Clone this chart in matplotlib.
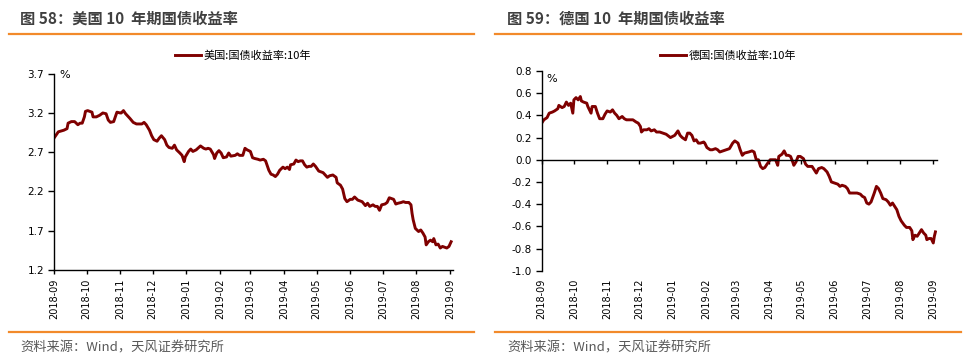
import matplotlib
matplotlib.use('Agg')
import matplotlib.pyplot as plt
import numpy as np
import pandas as pd
from matplotlib.lines import Line2D

# ---------------- data ----------------
us_dates = [
    '2018-09-01', '2018-09-05', '2018-09-10', '2018-09-13', '2018-09-14', '2018-09-17', '2018-09-20',
    '2018-09-23', '2018-09-25', '2018-09-27', '2018-09-29', '2018-09-30', '2018-10-02', '2018-10-06',
    '2018-10-07', '2018-10-10', '2018-10-13', '2018-10-16', '2018-10-19', '2018-10-21', '2018-10-23',
    '2018-10-26', '2018-10-27', '2018-10-29', '2018-11-01', '2018-11-02', '2018-11-04', '2018-11-06',
    '2018-11-10', '2018-11-13', '2018-11-16', '2018-11-21', '2018-11-23', '2018-11-25', '2018-11-28',
    '2018-11-30', '2018-12-02', '2018-12-05', '2018-12-07', '2018-12-09', '2018-12-12', '2018-12-14',
    '2018-12-16', '2018-12-19', '2018-12-21', '2018-12-23', '2018-12-26', '2018-12-28', '2018-12-30',
    '2018-12-31', '2019-01-03', '2019-01-05', '2019-01-07', '2019-01-10', '2019-01-14', '2019-01-17',
    '2019-01-19', '2019-01-21', '2019-01-23', '2019-01-26', '2019-01-27', '2019-01-29', '2019-01-31',
    '2019-02-02', '2019-02-04', '2019-02-07', '2019-02-09', '2019-02-11', '2019-02-15', '2019-02-17',
    '2019-02-19', '2019-02-22', '2019-02-24', '2019-02-26', '2019-03-01', '2019-03-03', '2019-03-05',
    '2019-03-08', '2019-03-10', '2019-03-13', '2019-03-15', '2019-03-18', '2019-03-20', '2019-03-22',
    '2019-03-24', '2019-03-26', '2019-03-28', '2019-03-31', '2019-04-02', '2019-04-04', '2019-04-06',
    '2019-04-07', '2019-04-10', '2019-04-12', '2019-04-14', '2019-04-16', '2019-04-18', '2019-04-20',
    '2019-04-22', '2019-04-24', '2019-04-26', '2019-04-28', '2019-04-30', '2019-05-03', '2019-05-05',
    '2019-05-07', '2019-05-09', '2019-05-11', '2019-05-13', '2019-05-16', '2019-05-19', '2019-05-20',
    '2019-05-23', '2019-05-25', '2019-05-27', '2019-05-29', '2019-06-01', '2019-06-03', '2019-06-05',
    '2019-06-08', '2019-06-10', '2019-06-12', '2019-06-15', '2019-06-17', '2019-06-19', '2019-06-22',
    '2019-06-24', '2019-06-26', '2019-06-28', '2019-06-30', '2019-07-03', '2019-07-05', '2019-07-07',
    '2019-07-09', '2019-07-11', '2019-07-13', '2019-07-15', '2019-07-18', '2019-07-20', '2019-07-22',
    '2019-07-25', '2019-07-27', '2019-07-28', '2019-07-29', '2019-07-31', '2019-08-03', '2019-08-05',
    '2019-08-07', '2019-08-09', '2019-08-10', '2019-08-12', '2019-08-14', '2019-08-16', '2019-08-17',
    '2019-08-19', '2019-08-21', '2019-08-23', '2019-08-25', '2019-08-27', '2019-08-29', '2019-08-31',
    '2019-09-02',
]
us_yield = [
    2.88, 2.96, 2.98, 3.00, 3.07, 3.09, 3.09,
    3.05, 3.07, 3.07, 3.15, 3.22, 3.23, 3.21,
    3.15, 3.15, 3.17, 3.20, 3.19, 3.11, 3.08,
    3.09, 3.13, 3.21, 3.20, 3.20, 3.23, 3.19,
    3.13, 3.08, 3.06, 3.06, 3.08, 3.05, 2.98,
    2.91, 2.86, 2.84, 2.88, 2.91, 2.86, 2.79,
    2.76, 2.75, 2.79, 2.73, 2.69, 2.66, 2.58,
    2.64, 2.71, 2.74, 2.71, 2.73, 2.78, 2.75,
    2.74, 2.75, 2.74, 2.67, 2.62, 2.69, 2.72,
    2.69, 2.63, 2.64, 2.69, 2.65, 2.66, 2.68,
    2.66, 2.66, 2.75, 2.73, 2.71, 2.63, 2.62,
    2.61, 2.60, 2.61, 2.59, 2.47, 2.42, 2.41,
    2.39, 2.42, 2.47, 2.51, 2.49, 2.51, 2.48,
    2.54, 2.55, 2.60, 2.58, 2.59, 2.59, 2.54,
    2.51, 2.52, 2.52, 2.55, 2.52, 2.46, 2.45,
    2.44, 2.41, 2.38, 2.40, 2.41, 2.38, 2.31,
    2.28, 2.23, 2.11, 2.07, 2.10, 2.10, 2.13,
    2.09, 2.08, 2.07, 2.02, 2.05, 2.01, 2.03,
    2.01, 2.01, 1.96, 2.03, 2.04, 2.06, 2.12,
    2.11, 2.10, 2.04, 2.05, 2.06, 2.07, 2.06,
    2.06, 2.03, 1.92, 1.84, 1.73, 1.69, 1.71,
    1.67, 1.62, 1.52, 1.56, 1.58, 1.56, 1.60,
    1.52, 1.53, 1.48, 1.50, 1.49, 1.48, 1.50,
    1.56,
]

de_dates = [
    '2018-09-01', '2018-09-03', '2018-09-06', '2018-09-08', '2018-09-11', '2018-09-13', '2018-09-16',
    '2018-09-17', '2018-09-20', '2018-09-22', '2018-09-24', '2018-09-26', '2018-09-28', '2018-09-30',
    '2018-10-01', '2018-10-03', '2018-10-05', '2018-10-07', '2018-10-08', '2018-10-10', '2018-10-13',
    '2018-10-14', '2018-10-17', '2018-10-18', '2018-10-21', '2018-10-23', '2018-10-25', '2018-10-28',
    '2018-10-30', '2018-11-01', '2018-11-04', '2018-11-06', '2018-11-08', '2018-11-10', '2018-11-12',
    '2018-11-15', '2018-11-17', '2018-11-19', '2018-11-22', '2018-11-25', '2018-11-28', '2018-11-30',
    '2018-12-02', '2018-12-03', '2018-12-05', '2018-12-08', '2018-12-10', '2018-12-12', '2018-12-15',
    '2018-12-17', '2018-12-20', '2018-12-23', '2018-12-26', '2018-12-30', '2019-01-01', '2019-01-03',
    '2019-01-06', '2019-01-08', '2019-01-10', '2019-01-13', '2019-01-15', '2019-01-17', '2019-01-19',
    '2019-01-21', '2019-01-23', '2019-01-25', '2019-01-27', '2019-01-30', '2019-01-31', '2019-02-02',
    '2019-02-05', '2019-02-07', '2019-02-10', '2019-02-12', '2019-02-14', '2019-02-17', '2019-02-20',
    '2019-02-23', '2019-02-26', '2019-02-28', '2019-03-03', '2019-03-05', '2019-03-07', '2019-03-09',
    '2019-03-13', '2019-03-16', '2019-03-18', '2019-03-20', '2019-03-22', '2019-03-24', '2019-03-26',
    '2019-03-28', '2019-03-30', '2019-04-02', '2019-04-05', '2019-04-07', '2019-04-09', '2019-04-10',
    '2019-04-13', '2019-04-15', '2019-04-17', '2019-04-19', '2019-04-21', '2019-04-23', '2019-04-24',
    '2019-04-26', '2019-04-28', '2019-04-30', '2019-05-03', '2019-05-05', '2019-05-07', '2019-05-11',
    '2019-05-13', '2019-05-15', '2019-05-17', '2019-05-20', '2019-05-22', '2019-05-25', '2019-05-27',
    '2019-05-29', '2019-06-01', '2019-06-04', '2019-06-06', '2019-06-08', '2019-06-11', '2019-06-13',
    '2019-06-15', '2019-06-18', '2019-06-20', '2019-06-22', '2019-06-25', '2019-06-27', '2019-06-29',
    '2019-07-01', '2019-07-03', '2019-07-05', '2019-07-08', '2019-07-10', '2019-07-12', '2019-07-14',
    '2019-07-16', '2019-07-19', '2019-07-21', '2019-07-23', '2019-07-25', '2019-07-27', '2019-07-29',
    '2019-07-31', '2019-08-02', '2019-08-05', '2019-08-07', '2019-08-10', '2019-08-12', '2019-08-13',
    '2019-08-15', '2019-08-17', '2019-08-19', '2019-08-21', '2019-08-23', '2019-08-25', '2019-08-26',
    '2019-08-28', '2019-08-30', '2019-09-01', '2019-09-02', '2019-09-03',
]
de_yield = [
    0.33, 0.36, 0.38, 0.42, 0.43, 0.44, 0.46,
    0.49, 0.47, 0.48, 0.52, 0.49, 0.51, 0.42,
    0.54, 0.56, 0.54, 0.57, 0.53, 0.52, 0.51,
    0.48, 0.42, 0.48, 0.48, 0.42, 0.37, 0.37,
    0.41, 0.44, 0.43, 0.45, 0.42, 0.40, 0.37,
    0.39, 0.37, 0.36, 0.36, 0.36, 0.34, 0.33,
    0.30, 0.25, 0.27, 0.27, 0.28, 0.26, 0.27,
    0.25, 0.25, 0.24, 0.23, 0.20, 0.21, 0.22,
    0.26, 0.22, 0.20, 0.18, 0.24, 0.24, 0.22,
    0.17, 0.18, 0.15, 0.15, 0.16, 0.15, 0.11,
    0.09, 0.09, 0.10, 0.09, 0.07, 0.08, 0.09,
    0.10, 0.15, 0.17, 0.15, 0.09, 0.04, 0.06,
    0.07, 0.08, 0.07, 0.00, 0.00, -0.06, -0.08,
    -0.07, -0.04, 0.00, 0.00, 0.00, -0.05, 0.03,
    0.05, 0.08, 0.04, 0.04, 0.03, -0.02, -0.05,
    -0.02, 0.03, 0.03, 0.01, -0.04, -0.06, -0.06,
    -0.09, -0.12, -0.08, -0.07, -0.08, -0.11, -0.15,
    -0.20, -0.21, -0.22, -0.24, -0.23, -0.24, -0.26,
    -0.30, -0.30, -0.30, -0.30, -0.31, -0.33, -0.34,
    -0.39, -0.40, -0.38, -0.30, -0.24, -0.26, -0.30,
    -0.35, -0.36, -0.38, -0.41, -0.39, -0.42, -0.45,
    -0.51, -0.55, -0.59, -0.61, -0.61, -0.64, -0.72,
    -0.68, -0.69, -0.66, -0.63, -0.66, -0.68, -0.72,
    -0.71, -0.71, -0.75, -0.69, -0.65,
]

month_labels = ['2018-09', '2018-10', '2018-11', '2018-12', '2019-01', '2019-02', '2019-03',
                '2019-04', '2019-05', '2019-06', '2019-07', '2019-08', '2019-09']
us_yticks = [1.2, 1.7, 2.2, 2.7, 3.2, 3.7]
de_yticks = [-1.0, -0.8, -0.6, -0.4, -0.2, 0.0, 0.2, 0.4, 0.6, 0.8]

titles = ['图 58：美国 10  年期国债收益率', '图 59：德国 10  年期国债收益率']
legend_labels = ['美国:国债收益率:10年', '德国:国债收益率:10年']
source_text = '资料来源：Wind，天风证券研究所'

# ---------------- style ----------------
plt.rcParams['font.family'] = ['DejaVu Sans']
CJK = ['Noto Sans CJK SC', 'DejaVu Sans']
LINE_COLOR = '#7F0000'
ORANGE = '#F28A2B'
W, H = 967, 360


def fx(px):
    return px / W


def fy(py):
    return 1 - py / H


fig = plt.figure(figsize=(W / 100, H / 100), dpi=100)

ax1 = fig.add_axes([fx(54), fy(270), fx(453.3) - fx(54), fy(73.7) - fy(270)])
ax2 = fig.add_axes([fx(541.7), fy(270.7), fx(936.5) - fx(541.7), fy(71) - fy(270.7)])

xmin = pd.Timestamp('2018-09-01')
xmax = pd.Timestamp('2019-09-04')
month_pos = pd.to_datetime([m + '-01' for m in month_labels])

for ax, dates, vals, yt, lab in [
    (ax1, us_dates, us_yield, us_yticks, legend_labels[0]),
    (ax2, de_dates, de_yield, de_yticks, legend_labels[1]),
]:
    ax.plot(pd.to_datetime(dates), vals, color=LINE_COLOR, lw=2.1, label=lab,
            solid_joinstyle='round')
    ax.set_xlim(xmin, xmax)
    ax.set_ylim(yt[0], yt[-1])
    ax.set_yticks(yt)
    ax.set_yticklabels(['%.1f' % v for v in yt])
    for s in ['top', 'right']:
        ax.spines[s].set_visible(False)
    for s in ['left', 'bottom']:
        ax.spines[s].set_linewidth(1.0)
        ax.spines[s].set_color('black')
    ax.tick_params(axis='y', direction='out', length=4, width=1.0, pad=3,
                   labelsize=7.5, colors='black')
    ax.set_xticks(month_pos)
    ax.tick_params(axis='x', direction='out', length=3, width=1.0, pad=3,
                   labelsize=7, colors='black')
    ax.patch.set_alpha(0)

ax1.set_xticklabels(month_labels, rotation=90)

# Germany: x axis drawn at zero, labels at the bottom
ax2.spines['bottom'].set_position(('data', 0))
ax2.set_xticklabels([])
for pos, lab in zip(month_pos, month_labels):
    ax2.text(pos, -0.04, lab, transform=ax2.get_xaxis_transform(), rotation=90,
             ha='center', va='top', fontsize=7, color='black')

# percent labels
ax1.text(0.013, 0.993, '%', transform=ax1.transAxes, fontsize=8, ha='left', va='center')
ax2.text(0.013, 0.96, '%', transform=ax2.transAxes, fontsize=8, ha='left', va='center')

# legends
for ax, x0 in [(ax1, 175), (ax2, 660)]:
    ax.legend(loc='center left', bbox_to_anchor=(fx(x0), fy(56)), bbox_transform=fig.transFigure,
              frameon=False, prop={'family': CJK, 'size': 8}, handlelength=2.35,
              handletextpad=0.2, borderpad=0, borderaxespad=0)

# titles, rules, footers
for x_title, x_a, x_b, title in [(20, 9, 474, titles[0]), (507, 495, 961, titles[1])]:
    fig.text(fx(x_title), fy(19), title, fontsize=11, fontweight='bold', color='#404040',
             family=CJK, ha='left', va='center')
    fig.add_artist(Line2D([fx(x_a), fx(x_b)], [fy(33.5), fy(33.5)], color=ORANGE, lw=1.6))
    fig.add_artist(Line2D([fx(x_a), fx(x_b)], [fy(331.7), fy(331.7)], color=ORANGE, lw=1.6))
    fig.text(fx(x_title), fy(348), source_text, fontsize=9.5, color='#595959',
             family=CJK, ha='left', va='center')

fig.savefig('out.png', dpi=100)
